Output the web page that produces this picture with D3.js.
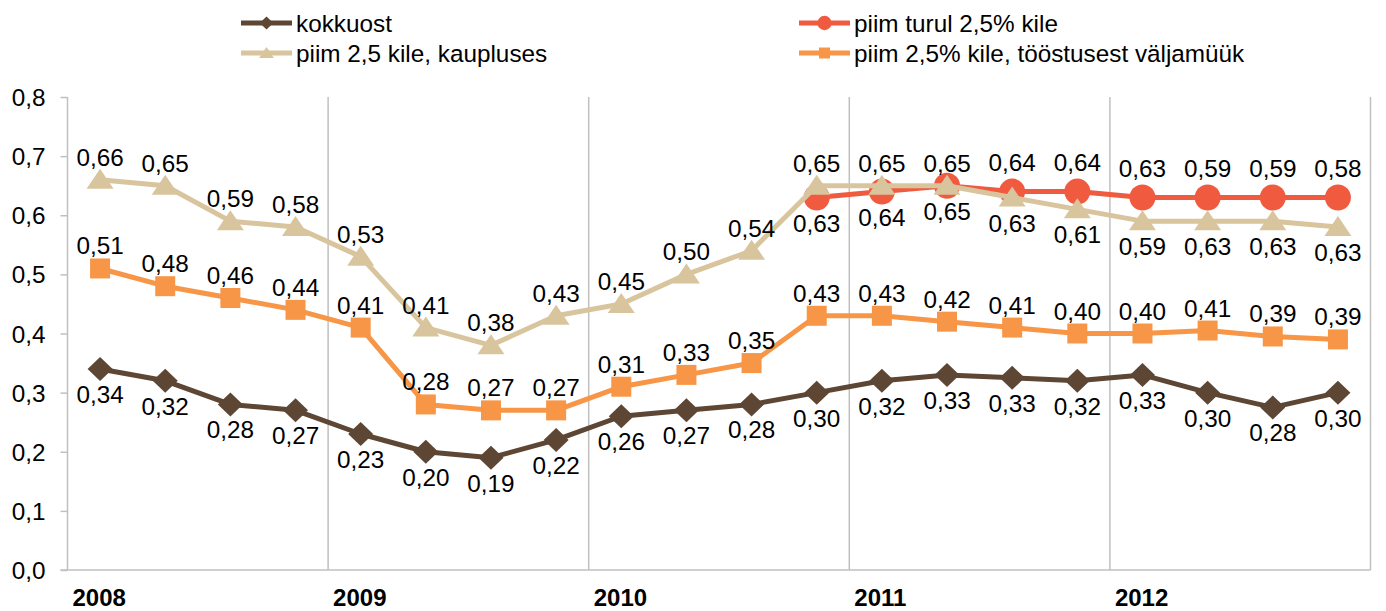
<!DOCTYPE html>
<html>
<head>
    <meta charset="utf-8">
    <title>Piima hinnad 2008-2012</title>
    <script src="https://cdn.jsdelivr.net/npm/d3@7"></script>
    <style>
        body { margin: 0; background: #fff; }
        svg text { font-family: "Liberation Sans", Arial, sans-serif; fill: #000; }
    </style>
</head>
<body>
    <div id="chart"></div>

    <script>
        // quarters 2008 I ... 2012 IV
        var years = ["2008", "2009", "2010", "2011", "2012"];
        var quarters = d3.range(20);

        var kokkuost = [0.34, 0.32, 0.28, 0.27, 0.23, 0.20, 0.19, 0.22, 0.26, 0.27,
                        0.28, 0.30, 0.32, 0.33, 0.325, 0.32, 0.33, 0.30, 0.275, 0.30];
        var kauplus  = [0.66, 0.65, 0.59, 0.58, 0.53, 0.41, 0.38, 0.43, 0.45, 0.50,
                        0.54, 0.65, 0.65, 0.65, 0.63, 0.61, 0.59, 0.59, 0.59, 0.58];
        var turul    = [null, null, null, null, null, null, null, null, null, null,
                        null, 0.63, 0.64, 0.65, 0.64, 0.64, 0.63, 0.63, 0.63, 0.63];
        var toostus  = [0.51, 0.48, 0.46, 0.44, 0.41, 0.28, 0.27, 0.27, 0.31, 0.33,
                        0.35, 0.43, 0.43, 0.42, 0.41, 0.40, 0.40, 0.405, 0.395, 0.39];

        // data labels as printed on the original chart
        var kokkuostLabels = ["0,34", "0,32", "0,28", "0,27", "0,23", "0,20", "0,19", "0,22", "0,26", "0,27",
                              "0,28", "0,30", "0,32", "0,33", "0,33", "0,32", "0,33", "0,30", "0,28", "0,30"];
        var kauplusLabels  = ["0,66", "0,65", "0,59", "0,58", "0,53", "0,41", "0,38", "0,43", "0,45", "0,50",
                              "0,54", "0,65", "0,65", "0,65", "0,63", "0,61", "0,59", "0,63", "0,63", "0,63"];
        var turulLabels    = [null, null, null, null, null, null, null, null, null, null,
                              null, "0,63", "0,64", "0,65", "0,64", "0,64", "0,63", "0,59", "0,59", "0,58"];
        var toostusLabels  = ["0,51", "0,48", "0,46", "0,44", "0,41", "0,28", "0,27", "0,27", "0,31", "0,33",
                              "0,35", "0,43", "0,43", "0,42", "0,41", "0,40", "0,40", "0,41", "0,39", "0,39"];

        var yTicks = [0, 0.1, 0.2, 0.3, 0.4, 0.5, 0.6, 0.7, 0.8];

        var width = 1386, height = 611;
        var margin = { left: 67.5, right: 15.5, top: 97, bottom: 41 };
        var fontSize = "24.3px";

        var svg = d3.select("#chart").append("svg")
            .attr("width", width)
            .attr("height", height);

        var x = d3.scaleBand()
            .domain(quarters)
            .range([margin.left, width - margin.right]);

        var xYear = d3.scaleBand()
            .domain(years)
            .range([margin.left, width - margin.right]);

        var y = d3.scaleLinear()
            .domain([0, 0.8])
            .range([height - margin.bottom, margin.top]);

        var cx = function (i) { return x(i) + x.bandwidth() / 2; };

        // marker shapes like the spreadsheet ones (w = width, h = height)
        function diamond(w, h) {
            return "M0," + (-h / 2) + "L" + (w / 2) + ",0L0," + (h / 2) + "L" + (-w / 2) + ",0Z";
        }
        function triangle(w, h) {
            return "M0," + (-h * 0.55) + "L" + (w / 2) + "," + (h * 0.45) + "L" + (-w / 2) + "," + (h * 0.45) + "Z";
        }
        function square(w) {
            return "M" + (-w / 2) + "," + (-w / 2) + "h" + w + "v" + w + "h" + (-w) + "Z";
        }
        function circle(w) {
            var r = w / 2;
            return "M" + (-r) + ",0a" + r + "," + r + " 0 1,0 " + (2 * r) + ",0a" + r + "," + r + " 0 1,0 " + (-2 * r) + ",0Z";
        }

        // vertical year grid lines
        svg.append("g")
            .selectAll("line")
            .data(years.slice(1).concat(["end"]))
            .enter().append("line")
            .attr("x1", d => d === "end" ? width - margin.right : xYear(d))
            .attr("x2", d => d === "end" ? width - margin.right : xYear(d))
            .attr("y1", margin.top)
            .attr("y2", y(0))
            .attr("stroke", "#c0c0c0")
            .attr("stroke-width", 1.5);

        // y axis
        var yAxis = svg.append("g")
            .attr("transform", "translate(" + margin.left + ",0)")
            .call(d3.axisLeft(y).tickValues(yTicks).tickSize(7).tickPadding(15)
                .tickFormat(d => d3.format(".1f")(d).replace(".", ",")));
        yAxis.selectAll("line").attr("stroke", "#c0c0c0").attr("stroke-width", 1.5);
        yAxis.select(".domain").attr("stroke", "#c0c0c0").attr("stroke-width", 1.5)
            .attr("d", "M0," + margin.top + "V" + y(0));
        yAxis.selectAll("text")
            .style("font-size", fontSize)
            .attr("dy", "0.35em");

        // x axis line
        svg.append("line")
            .attr("x1", margin.left - 7)
            .attr("x2", width - margin.right)
            .attr("y1", y(0))
            .attr("y2", y(0))
            .attr("stroke", "#c0c0c0")
            .attr("stroke-width", 1.5);

        // year labels
        svg.append("g")
            .selectAll("text")
            .data(years)
            .enter().append("text")
            .attr("x", d => xYear(d) + 5)
            .attr("y", 606)
            .style("font-size", "24px")
            .style("font-weight", "bold")
            .text(d => d);

        var series = [
            { name: "kokkuost", values: kokkuost, labels: kokkuostLabels, color: "#5d4634",
              shape: s => diamond(25 * s, 24 * s), place: i => "below", above: -14 },
            { name: "piim 2,5 kile, kaupluses", values: kauplus, labels: kauplusLabels, color: "#d8c59e",
              shape: s => triangle(27 * s, 20 * s), place: i => i >= 14 ? "below" : "above", above: -14 },
            { name: "piim turul 2,5% kile", values: turul, labels: turulLabels, color: "#f05b40",
              shape: s => circle(26 * s), place: i => i >= 14 ? "above" : "below", above: -21 },
            { name: "piim 2,5% kile, tööstusest väljamüük", values: toostus, labels: toostusLabels, color: "#f79646",
              shape: s => square(20 * s), place: i => "above", above: -14 }
        ];

        var line = d3.line()
            .defined(d => d.v !== null)
            .x(d => cx(d.i))
            .y(d => y(d.v));

        var drawOrder = [2, 1, 3, 0];

        drawOrder.forEach(function (k) {
            var s = series[k];
            var pts = s.values.map((v, i) => ({ i: i, v: v, label: s.labels[i] }));
            var g = svg.append("g");

            g.append("path")
                .datum(pts)
                .attr("d", line)
                .attr("fill", "none")
                .attr("stroke", s.color)
                .attr("stroke-width", 5)
                .attr("stroke-linejoin", "round");

            g.selectAll(".marker")
                .data(pts.filter(d => d.v !== null))
                .enter().append("path")
                .attr("class", "marker")
                .attr("transform", d => "translate(" + cx(d.i) + "," + y(d.v) + ")")
                .attr("d", s.shape(1))
                .attr("fill", s.color);
        });

        // data labels on top
        series.forEach(function (s) {
            var pts = s.values.map((v, i) => ({ i: i, v: v, label: s.labels[i] }))
                .filter(d => d.v !== null);
            svg.append("g")
                .selectAll("text")
                .data(pts)
                .enter().append("text")
                .attr("x", d => cx(d.i))
                .attr("y", d => y(d.v) + (s.place(d.i) === "above" ? s.above : 34))
                .attr("text-anchor", "middle")
                .style("font-size", fontSize)
                .text(d => d.label);
        });

        // legend
        var legendItems = [
            { s: series[0], x: 241, y: 23 },
            { s: series[2], x: 799, y: 23 },
            { s: series[1], x: 241, y: 53 },
            { s: series[3], x: 799, y: 53 }
        ];

        var legend = svg.append("g");
        legendItems.forEach(function (it) {
            var g = legend.append("g").attr("transform", "translate(" + it.x + "," + it.y + ")");
            g.append("line")
                .attr("x1", 0).attr("x2", 51)
                .attr("stroke", it.s.color)
                .attr("stroke-width", 5);
            g.append("path")
                .attr("transform", "translate(25.5,0)")
                .attr("d", it.s.shape(0.55))
                .attr("fill", it.s.color);
            g.append("text")
                .attr("x", 55)
                .attr("dy", "0.35em")
                .style("font-size", fontSize)
                .text(it.s.name);
        });
    </script>
</body>
</html>
